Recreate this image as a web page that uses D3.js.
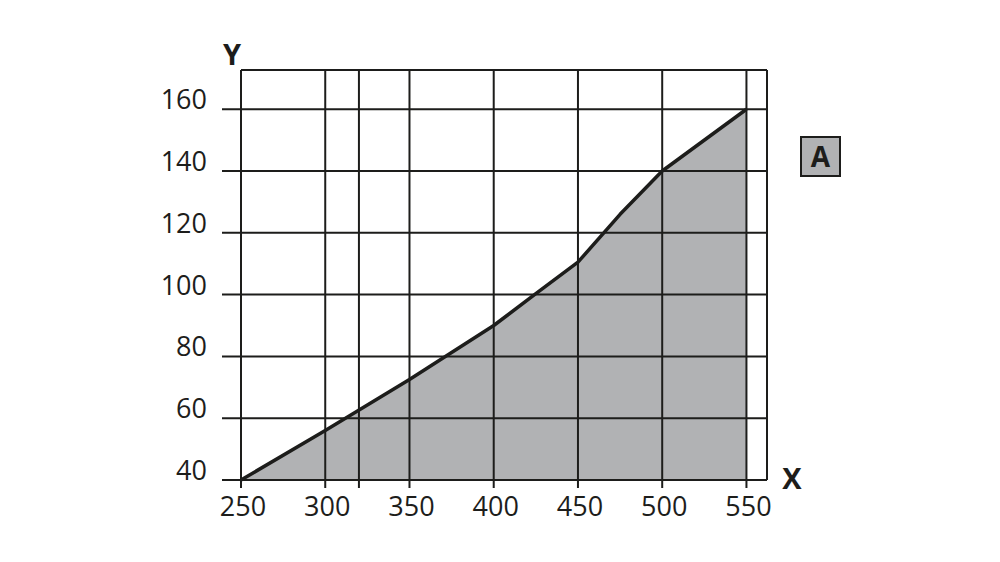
<!DOCTYPE html>
<html><head><meta charset="utf-8">
<script src="https://cdn.jsdelivr.net/npm/d3@7"></script>
<style>body{margin:0;background:#fff}svg{display:block}</style>
</head><body>
<svg id="c" width="1000" height="562"></svg>
<script>
const xValues = [250, 300, 350, 400, 425, 450, 475, 500, 550];
const yValues = [40, 56, 72.5, 90, 100.3, 110.5, 126, 140, 160];
const xTickLabels = [250, 300, 350, 400, 450, 500, 550];
const xGridValues = [250, 300, 320, 350, 400, 450, 500, 550];
const yTickLabels = [40, 60, 80, 100, 120, 140, 160];
const xAxisTitle = "X", yAxisTitle = "Y", badgeText = "A";

const data = xValues.map((x, i) => ({x, y: yValues[i]}));
const svg = d3.select("#c");
const ink = "#1d1d1b", fill = "#b1b2b4";
const font = "'Open Sans', 'Noto Sans', sans-serif";

const x = d3.scaleLinear().domain([250, 562.2]).range([241, 767]);
const y = d3.scaleLinear().domain([40, 172.7]).range([480, 70]);

svg.append("path").datum(data)
  .attr("d", d3.area().x(d => x(d.x)).y0(y(40)).y1(d => y(d.y)))
  .attr("fill", fill);

const g = svg.append("g").attr("stroke", ink).attr("stroke-width", 2);
g.selectAll(".hy").data(yTickLabels).join("line")
  .attr("x1", 222).attr("x2", x(562.2)).attr("y1", d => y(d)).attr("y2", d => y(d));
g.selectAll(".vx").data(xGridValues).join("line")
  .attr("x1", d => x(d)).attr("x2", d => x(d)).attr("y1", y(172.7)).attr("y2", 488);
g.append("line").attr("x1", x(250)).attr("x2", x(562.2)).attr("y1", y(172.7)).attr("y2", y(172.7));
g.append("line").attr("x1", x(562.2)).attr("x2", x(562.2)).attr("y1", y(172.7)).attr("y2", y(40));

svg.append("path").datum(data)
  .attr("d", d3.line().x(d => x(d.x)).y(d => y(d.y)))
  .attr("fill", "none").attr("stroke", ink).attr("stroke-width", 3.5)
  .attr("stroke-linejoin", "round");

svg.selectAll(".yl").data(yTickLabels).join("text")
  .attr("x", 207).attr("y", d => y(d)).attr("text-anchor", "end")
  .attr("font-family", font).attr("font-size", 27).attr("fill", ink).text(d => d);
svg.selectAll(".xl").data(xTickLabels).join("text")
  .attr("x", d => x(d) + 2).attr("y", 516).attr("text-anchor", "middle")
  .attr("font-family", font).attr("font-size", 27).attr("fill", ink).text(d => d);

svg.append("text").attr("x", 232).attr("y", 65).attr("text-anchor", "middle")
  .attr("font-family", font).attr("font-weight", "bold").attr("font-size", 29).attr("fill", ink).text(yAxisTitle);
svg.append("text").attr("x", 792).attr("y", 489).attr("text-anchor", "middle")
  .attr("font-family", font).attr("font-weight", "bold").attr("font-size", 29).attr("fill", ink).text(xAxisTitle);

svg.append("rect").attr("x", 801).attr("y", 137).attr("width", 39).attr("height", 39)
  .attr("fill", fill).attr("stroke", ink).attr("stroke-width", 2);
svg.append("text").attr("x", 820.5).attr("y", 166.5).attr("text-anchor", "middle")
  .attr("font-family", font).attr("font-weight", "bold").attr("font-size", 28).attr("fill", ink).text(badgeText);
</script>
</body></html>
